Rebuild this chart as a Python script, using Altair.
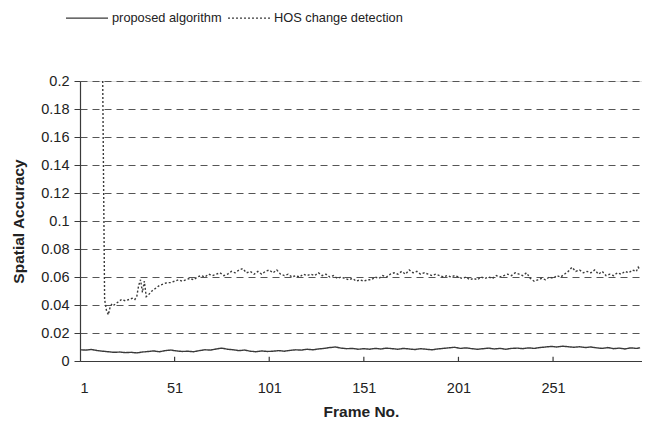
import altair as alt
import pandas as pd

# HOS change detection (frame, value)
hos_frames = [13, 14, 15, 16, 17, 18, 19, 21, 23, 25, 27, 29, 30, 31, 32, 33, 34, 35, 36, 37,
              39, 41, 43, 45, 47, 49, 51, 53, 55, 57, 59, 61, 63, 65, 67, 69, 71, 73, 75, 77,
              79, 81, 83, 85, 87, 89, 91, 93, 95, 97, 99, 101, 103, 105, 107, 109, 111, 113, 115, 117,
              119, 121, 123, 125, 127, 129, 131, 133, 135, 137, 139, 141, 143, 145, 147, 149, 151, 153, 155, 157,
              159, 161, 163, 165, 167, 169, 171, 173, 175, 177, 179, 181, 183, 185, 187, 189, 191, 193, 195, 197,
              199, 201, 203, 205, 207, 209, 211, 213, 215, 217, 219, 221, 223, 225, 227, 229, 231, 233, 235, 237,
              239, 241, 243, 245, 247, 249, 251, 253, 255, 257, 259, 261, 263, 265, 267, 269, 271, 273, 275, 277,
              279, 281, 283, 285, 287, 289, 291, 293, 295, 296, 297]
hos_values = [0.2, 0.044, 0.036, 0.033, 0.039, 0.041, 0.040, 0.042, 0.044, 0.043, 0.044, 0.045, 0.044, 0.046, 0.054, 0.058, 0.049, 0.057, 0.046, 0.047,
              0.050, 0.052, 0.054, 0.055, 0.056, 0.056, 0.057, 0.058, 0.057, 0.058, 0.059, 0.058, 0.060, 0.061, 0.060, 0.062, 0.061, 0.062, 0.063, 0.061,
              0.062, 0.064, 0.063, 0.065, 0.066, 0.063, 0.064, 0.062, 0.064, 0.062, 0.064, 0.065, 0.063, 0.065, 0.062, 0.061, 0.062, 0.060, 0.061, 0.060,
              0.062, 0.061, 0.062, 0.061, 0.063, 0.061, 0.062, 0.060, 0.061, 0.059, 0.060, 0.059, 0.058, 0.059, 0.057, 0.058, 0.057, 0.058, 0.058, 0.060,
              0.059, 0.061, 0.060, 0.062, 0.063, 0.062, 0.064, 0.062, 0.065, 0.063, 0.064, 0.062, 0.063, 0.062, 0.061, 0.062, 0.061, 0.060, 0.061, 0.060,
              0.061, 0.060, 0.059, 0.060, 0.058, 0.059, 0.058, 0.060, 0.059, 0.060, 0.059, 0.061, 0.060, 0.061, 0.062, 0.061, 0.063, 0.062, 0.061, 0.063,
              0.059, 0.057, 0.058, 0.059, 0.058, 0.060, 0.059, 0.061, 0.060, 0.062, 0.064, 0.067, 0.064, 0.065, 0.063, 0.064, 0.063, 0.065, 0.062, 0.064,
              0.061, 0.062, 0.061, 0.063, 0.062, 0.064, 0.063, 0.065, 0.064, 0.067, 0.065]

# Proposed algorithm (frame, value)
prop_frames = [1, 4, 7, 10, 13, 16, 19, 22, 25, 28, 31, 34, 37, 40, 43, 46, 49, 52, 55, 58,
               61, 64, 67, 70, 73, 76, 79, 82, 85, 88, 91, 94, 97, 100, 103, 106, 109, 112, 115, 118,
               121, 124, 127, 130, 133, 136, 139, 142, 145, 148, 151, 154, 157, 160, 163, 166, 169, 172, 175, 178,
               181, 184, 187, 190, 193, 196, 199, 202, 205, 208, 211, 214, 217, 220, 223, 226, 229, 232, 235, 238,
               241, 244, 247, 250, 253, 256, 259, 262, 265, 268, 271, 274, 277, 280, 283, 286, 289, 292, 295, 297]
prop_values = [0.0080, 0.0078, 0.0082, 0.0075, 0.0070, 0.0066, 0.0062, 0.0064, 0.0060, 0.0062, 0.0058, 0.0064, 0.0068, 0.0072, 0.0066, 0.0074, 0.0078, 0.0072, 0.0068, 0.0070,
               0.0066, 0.0074, 0.0080, 0.0078, 0.0086, 0.0092, 0.0084, 0.0080, 0.0074, 0.0078, 0.0070, 0.0066, 0.0072, 0.0068, 0.0070, 0.0074, 0.0070, 0.0076, 0.0080, 0.0078,
               0.0084, 0.0080, 0.0086, 0.0090, 0.0096, 0.0100, 0.0092, 0.0088, 0.0090, 0.0084, 0.0088, 0.0084, 0.0090, 0.0086, 0.0092, 0.0088, 0.0084, 0.0090, 0.0086, 0.0082,
               0.0088, 0.0084, 0.0080, 0.0086, 0.0090, 0.0094, 0.0098, 0.0090, 0.0094, 0.0088, 0.0084, 0.0088, 0.0092, 0.0086, 0.0090, 0.0084, 0.0090, 0.0092, 0.0088, 0.0094,
               0.0090, 0.0096, 0.0100, 0.0104, 0.0100, 0.0106, 0.0102, 0.0098, 0.0102, 0.0096, 0.0100, 0.0094, 0.0090, 0.0096, 0.0088, 0.0092, 0.0086, 0.0094, 0.0090, 0.0094]

series_names = ["proposed algorithm", "HOS change detection"]
x_ticks = [1, 51, 101, 151, 201, 251]
y_ticks = [0, 0.02, 0.04, 0.06, 0.08, 0.1, 0.12, 0.14, 0.16, 0.18, 0.2]

df = pd.concat([
    pd.DataFrame({"frame": prop_frames, "value": prop_values, "series": series_names[0]}),
    pd.DataFrame({"frame": hos_frames, "value": hos_values, "series": series_names[1]}),
])

FONT = "Liberation Sans"
INK = "#3a3a3a"

x_scale = alt.Scale(domain=[1, 298], nice=False, zero=False)
y_scale = alt.Scale(domain=[0, 0.2], nice=False)

x_axis = alt.Axis(values=x_ticks, title="Frame No.", grid=False, ticks=False,
                  labelPadding=20, titlePadding=10, labelFontSize=14.5,
                  titleFontSize=15.5, titleFontWeight="bold", labelFont=FONT,
                  titleFont=FONT, domainColor=INK, labelColor="#222",
                  titleColor="#222", domainWidth=1.2, labelOverlap=False)
y_axis = alt.Axis(values=y_ticks, format=".2~f", title="Spatial Accuracy",
                  grid=True, gridDash=[7, 5], gridColor="#555", gridWidth=1,
                  tickSize=6, tickColor=INK, labelPadding=5, titlePadding=14,
                  labelFontSize=14.5, titleFontSize=15.5, titleFontWeight="bold",
                  labelFont=FONT, titleFont=FONT, domainColor=INK,
                  labelColor="#222", titleColor="#222", domainWidth=1.2,
                  labelOverlap=False, tickCount=11)

lines = alt.Chart(df).mark_line(strokeWidth=1.4, color=INK, clip=True).encode(
    x=alt.X("frame:Q", scale=x_scale, axis=x_axis),
    y=alt.Y("value:Q", scale=y_scale, axis=y_axis),
    strokeDash=alt.StrokeDash("series:N",
                              scale=alt.Scale(domain=series_names, range=[[1, 0], [2, 2]]),
                              legend=alt.Legend(title=None, orient="none", legendX=-15, legendY=-85,
                                                direction="horizontal", symbolType="stroke",
                                                symbolSize=1764, symbolStrokeColor=INK,
                                                symbolStrokeWidth=1.2, labelFont=FONT,
                                                labelFontSize=12.8, labelColor="#222",
                                                labelOffset=3, columnPadding=3)),
    detail="series:N",
)

tick_df = pd.DataFrame({"frame": x_ticks[1:], "value": 0.0, "top": 0.003})
ticks = alt.Chart(tick_df).mark_rule(color=INK, strokeWidth=1.2).encode(
    x=alt.X("frame:Q", scale=x_scale, axis=x_axis),
    y=alt.Y("value:Q", scale=y_scale, axis=y_axis),
    y2="top:Q",
)

chart = alt.layer(lines, ticks).properties(
    width=562, height=280,
    autosize=alt.AutoSizeParams(type="none"),
    padding={"left": 72, "top": 73, "right": 0, "bottom": 62},
).configure_view(stroke=None).configure(background="white")

chart.save("out.html", embed_options={"renderer": "svg", "actions": False})
